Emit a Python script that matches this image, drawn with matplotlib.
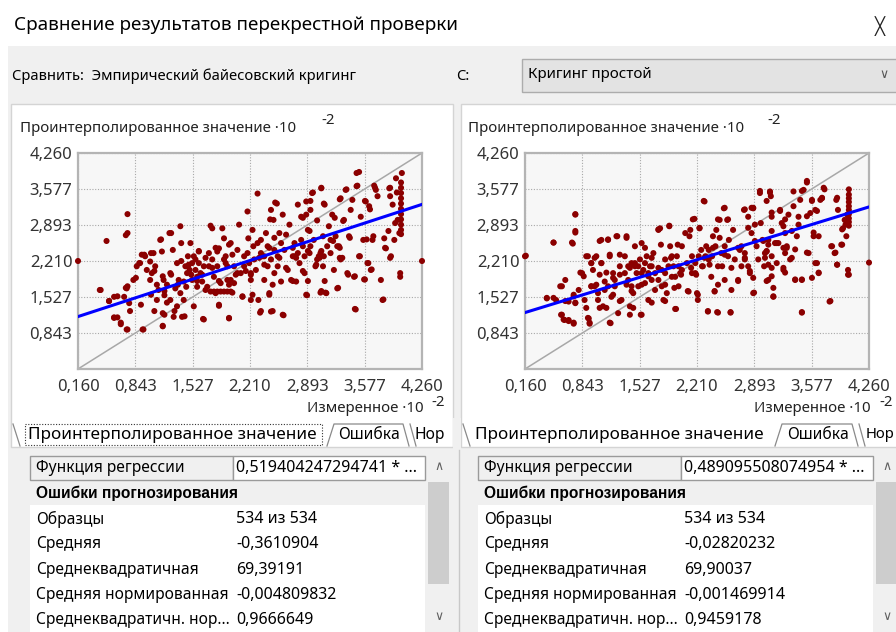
import matplotlib
matplotlib.use('Agg')
import matplotlib.pyplot as plt
from matplotlib.patches import Rectangle

plt.rcParams['font.family'] = ['Noto Sans', 'DejaVu Sans']

# ---------------- data ----------------
tick_vals = [0.160, 0.843, 1.527, 2.210, 2.893, 3.577, 4.260]
tick_labels = ['0,160', '0,843', '1,527', '2,210', '2,893', '3,577', '4,260']

left_slope, left_intercept = 0.519404247294741, 1.072
right_slope, right_intercept = 0.489095508074954, 1.153

left_points = [
    (0.16, 2.21), (4.26, 2.21), (0.50, 2.59), (0.75, 3.10), (0.73, 2.70), (0.75, 2.74), (0.42, 1.66),
    (0.53, 1.45), (0.59, 1.53), (0.59, 1.14), (0.63, 1.14), (0.67, 1.01), (0.74, 0.91), (0.94, 0.91),
    (0.74, 1.69), (0.75, 1.73), (0.71, 1.53), (0.78, 1.26), (0.82, 1.85), (0.86, 2.11), (0.90, 2.17),
    (0.92, 2.33), (0.96, 2.30), (0.98, 2.04), (1.02, 2.20), (1.04, 1.98), (1.06, 2.36), (1.10, 1.76),
    (1.10, 1.47), (1.14, 2.61), (1.16, 2.39), (1.18, 1.85), (1.19, 1.56), (1.17, 1.22), (1.17, 0.98),
    (1.22, 1.42), (1.25, 2.74), (1.26, 1.98), (1.29, 2.42), (1.30, 1.15), (1.32, 1.69), (1.34, 2.17),
    (1.36, 1.85), (1.38, 2.87), (1.39, 2.55), (1.40, 1.15), (1.42, 1.47), (1.44, 2.11), (1.45, 1.72),
    (1.47, 2.30), (1.49, 2.04), (1.50, 2.55), (1.52, 1.85), (1.54, 1.35), (1.56, 2.24), (1.58, 1.72),
    (1.60, 2.39), (1.62, 1.98), (1.65, 1.11), (1.66, 2.11), (1.68, 1.66), (1.72, 2.36), (1.74, 2.88),
    (1.76, 2.83), (1.78, 1.91), (1.80, 1.60), (1.82, 2.11), (1.84, 1.36), (1.86, 1.79), (1.88, 2.83),
    (1.90, 2.64), (1.92, 2.30), (1.94, 1.85), (1.96, 1.12), (1.98, 2.55), (2.00, 1.61), (2.02, 2.11),
    (2.06, 2.42), (2.08, 2.90), (2.10, 1.98), (2.12, 1.53), (2.14, 2.30), (2.18, 3.15), (2.19, 2.64),
    (2.20, 2.17), (2.22, 1.85), (2.22, 1.47), (2.24, 2.80), (2.25, 2.49), (2.28, 2.04), (2.30, 3.49),
    (2.31, 1.47), (2.33, 1.23), (2.34, 2.61), (2.36, 2.30), (2.38, 1.85), (2.40, 2.74), (2.42, 2.11),
    (2.44, 1.60), (2.46, 3.18), (2.46, 1.25), (2.49, 2.99), (2.50, 2.42), (2.53, 3.30), (2.54, 2.11),
    (2.56, 2.74), (2.58, 1.82), (2.60, 3.09), (2.61, 1.18), (2.62, 2.42), (2.64, 2.71), (2.66, 2.04),
    (2.68, 2.90), (2.70, 1.85), (2.72, 2.30), (2.74, 2.55), (2.76, 1.82), (2.78, 3.28), (2.80, 2.17),
    (2.82, 3.05), (2.84, 2.49), (2.86, 1.98), (2.88, 3.34), (2.89, 1.56), (2.90, 2.80), (2.92, 2.36),
    (2.93, 3.18), (2.95, 3.50), (2.97, 2.61), (2.99, 2.11), (3.01, 2.98), (3.03, 2.30), (3.05, 1.61),
    (3.06, 3.59), (3.08, 2.68), (3.08, 2.11), (3.09, 3.30), (3.11, 1.61), (3.13, 2.49), (3.15, 2.87),
    (3.17, 2.36), (3.19, 3.09), (3.21, 2.04), (3.23, 2.68), (3.25, 1.69), (3.27, 2.49), (3.29, 3.40),
    (3.31, 2.27), (3.33, 2.99), (3.35, 3.56), (3.37, 1.98), (3.39, 2.68), (3.41, 3.18), (3.43, 3.37),
    (3.45, 1.91), (3.47, 1.29), (3.48, 3.88), (3.51, 3.90), (3.49, 3.64), (3.51, 2.30), (3.53, 3.05),
    (3.56, 2.61), (3.57, 1.86), (3.59, 3.34), (3.61, 2.17), (3.63, 3.25), (3.65, 2.04), (3.67, 2.61),
    (3.69, 3.64), (3.71, 3.56), (3.73, 3.44), (3.77, 1.85), (3.79, 1.47), (3.81, 2.64), (3.83, 2.45),
    (3.87, 3.59), (3.88, 3.44), (3.89, 2.30), (3.91, 3.28), (3.93, 2.61), (3.95, 3.78), (3.97, 2.99),
    (3.99, 2.74), (4.00, 1.98), (4.00, 1.91), (4.01, 3.70), (4.01, 3.60), (4.01, 3.50), (4.01, 3.40),
    (4.01, 3.30), (4.01, 3.20), (4.01, 3.10), (4.01, 3.00), (4.01, 2.90), (4.01, 2.80), (4.01, 2.72),
    (4.02, 3.88),
    (1.02, 1.85), (1.08, 2.11), (1.12, 1.66), (1.22, 1.76), (1.26, 1.47), (1.34, 1.35), (1.38, 1.60),
    (1.42, 1.82), (1.46, 1.98), (1.48, 2.14), (1.52, 2.17), (1.54, 2.30), (1.56, 2.04), (1.58, 1.91),
    (1.60, 2.17), (1.64, 1.82), (1.70, 1.72), (1.74, 1.63), (1.78, 1.63), (1.82, 1.63), (1.86, 1.63),
    (1.90, 1.63), (1.94, 1.63), (1.98, 1.63), (1.72, 2.11), (1.76, 2.24), (1.82, 2.39), (1.84, 2.45),
    (1.90, 2.24), (1.94, 2.11), (1.98, 1.85), (2.02, 1.79), (2.06, 1.98), (2.14, 2.11), (2.18, 2.36),
    (2.22, 1.98), (2.26, 2.24), (2.30, 2.55), (2.34, 2.36), (2.38, 2.30), (2.42, 2.49), (2.46, 2.24),
    (2.50, 1.98), (2.54, 2.30), (2.58, 2.55), (2.74, 2.30), (2.78, 2.36), (2.82, 2.61), (2.86, 2.30),
    (2.93, 2.49), (3.01, 2.24), (3.05, 2.36), (3.09, 2.30), (3.17, 2.61), (3.25, 2.49), (3.29, 2.24),
    (2.51, 3.32), (2.45, 3.00), (2.84, 3.03), (2.93, 3.35), (1.60, 2.40), (1.68, 2.27), (1.80, 2.46),
    (1.96, 2.52), (2.00, 2.33), (1.92, 2.17), (1.76, 2.08), (1.64, 1.95), (1.58, 1.83), (1.84, 1.83),
    (1.96, 1.76), (2.04, 1.95), (2.16, 2.02), (2.22, 1.95), (2.32, 2.27), (2.38, 2.14), (2.44, 2.46),
    (2.50, 2.65), (2.56, 2.27), (2.64, 2.08), (2.72, 2.46), (2.76, 2.27), (2.84, 2.02), (2.90, 1.83),
    (2.72, 1.83), (2.48, 1.76), (2.44, 1.57), (2.24, 1.57), (2.12, 1.54), (1.84, 1.38), (1.96, 1.13),
    (1.66, 1.10), (2.34, 1.26), (2.48, 1.26), (2.60, 1.19),
    (3.06, 3.60), (2.96, 3.51), (2.88, 3.09), (3.10, 3.28), (3.28, 3.38), (3.36, 3.57), (3.48, 3.63),
    (3.58, 3.35), (3.64, 3.19), (3.70, 3.60), (3.88, 3.60), (3.96, 3.51), (3.94, 2.93), (3.86, 2.78),
    (3.82, 2.46), (3.88, 2.27), (3.68, 2.68), (3.60, 2.62), (3.52, 2.30), (3.62, 2.17), (3.66, 2.05),
    (3.58, 1.86), (3.46, 1.92), (3.38, 1.95), (3.26, 1.70), (3.46, 1.30), (3.80, 1.48), (3.12, 1.60),
    (3.06, 1.64), (3.10, 1.83), (3.04, 2.27), (3.00, 2.14), (3.06, 2.40), (3.20, 2.59), (3.28, 2.46),
    (3.28, 2.27), (3.40, 2.65), (3.32, 2.97), (3.22, 3.03), (2.92, 2.78), (2.90, 2.40), (2.88, 1.57),
    (1.27, 2.74), (1.15, 2.62), (0.95, 2.33), (1.03, 2.36), (0.89, 2.17), (0.85, 1.89), (1.07, 2.02),
    (1.17, 1.92), (1.27, 1.95), (1.39, 2.21), (1.47, 2.11), (1.51, 1.95), (1.35, 1.76), (1.19, 1.64),
    (1.03, 1.57), (0.91, 1.38), (1.07, 1.26), (1.19, 1.19), (1.31, 1.26), (1.43, 1.16), (1.17, 0.97),
    (0.93, 0.91), (0.75, 0.91), (0.67, 1.04), (0.59, 1.13), (0.63, 1.54), (0.53, 1.45), (0.43, 1.66),
    (0.77, 1.41), (0.73, 1.70),
]

right_points = [
    (0.17, 2.31), (4.26, 2.18), (0.50, 2.56), (0.76, 3.10), (0.76, 2.75), (0.73, 2.54), (0.42, 1.50),
    (0.53, 1.47), (0.60, 1.73), (0.59, 1.19), (0.63, 1.09), (0.68, 1.09), (0.74, 1.02), (0.64, 1.85),
    (0.68, 1.44), (0.74, 1.54), (0.76, 1.41), (0.80, 1.66), (0.84, 1.98), (0.87, 1.47), (0.89, 2.30),
    (0.92, 1.12), (0.93, 1.02), (0.95, 2.17), (0.97, 2.04), (0.99, 1.73), (1.01, 2.30), (1.03, 1.60),
    (1.07, 2.61), (1.07, 2.17), (1.09, 1.35), (1.11, 1.82), (1.15, 2.61), (1.17, 2.30), (1.18, 1.03),
    (1.19, 1.53), (1.21, 1.98), (1.23, 1.73), (1.26, 2.68), (1.27, 1.22), (1.29, 2.11), (1.31, 1.47),
    (1.35, 2.30), (1.37, 2.68), (1.39, 1.85), (1.41, 1.35), (1.43, 2.17), (1.45, 1.60), (1.47, 2.49),
    (1.49, 1.98), (1.51, 1.73), (1.53, 2.24), (1.54, 1.19), (1.55, 2.55), (1.57, 2.04), (1.59, 1.79),
    (1.61, 2.30), (1.63, 1.47), (1.65, 2.11), (1.67, 1.85), (1.69, 2.36), (1.71, 1.66), (1.75, 2.80),
    (1.77, 2.83), (1.79, 2.04), (1.81, 1.47), (1.83, 2.24), (1.85, 1.60), (1.88, 2.88), (1.89, 2.49),
    (1.91, 1.91), (1.93, 2.11), (1.95, 1.30), (1.97, 2.30), (1.99, 1.73), (2.01, 1.98), (2.03, 2.49),
    (2.07, 2.74), (2.09, 2.17), (2.11, 1.63), (2.13, 2.80), (2.15, 2.30), (2.18, 3.01), (2.19, 1.98),
    (2.21, 1.60), (2.22, 1.47), (2.24, 2.83), (2.26, 2.42), (2.28, 2.11), (2.30, 3.34), (2.32, 2.49),
    (2.34, 1.25), (2.35, 2.24), (2.38, 1.91), (2.40, 2.68), (2.42, 1.63), (2.44, 2.80), (2.45, 1.24),
    (2.46, 2.11), (2.48, 2.99), (2.50, 2.36), (2.53, 3.21), (2.54, 1.85), (2.57, 2.99), (2.59, 2.61),
    (2.61, 1.24), (2.62, 1.66), (2.64, 2.80), (2.66, 2.24), (2.70, 1.85), (2.72, 2.42), (2.74, 2.11),
    (2.77, 3.18), (2.78, 2.36), (2.82, 3.05), (2.84, 1.98), (2.86, 2.74), (2.88, 3.21), (2.89, 1.61),
    (2.92, 2.49), (2.96, 3.50), (2.97, 2.93), (2.99, 2.61), (3.01, 2.11), (3.04, 2.39), (3.06, 1.85),
    (3.08, 3.53), (3.09, 3.44), (3.10, 3.05), (3.12, 1.53), (3.14, 2.55), (3.16, 2.17), (3.20, 3.18),
    (3.22, 2.93), (3.24, 2.04), (3.26, 2.74), (3.28, 2.49), (3.30, 3.09), (3.32, 2.24), (3.36, 3.53),
    (3.38, 1.85), (3.40, 2.68), (3.42, 3.05), (3.44, 3.37), (3.46, 1.85), (3.46, 1.23), (3.48, 3.56),
    (3.52, 3.70), (3.54, 2.36), (3.56, 3.12), (3.58, 3.37), (3.60, 2.68), (3.62, 3.18), (3.64, 2.17),
    (3.66, 1.98), (3.68, 3.37), (3.70, 3.40), (3.73, 3.57), (3.79, 1.44), (3.81, 2.49), (3.85, 2.36),
    (3.87, 3.37), (3.88, 2.14), (3.89, 3.18), (3.93, 2.52), (3.95, 2.83), (3.97, 2.99), (3.99, 2.68),
    (4.01, 2.04), (4.01, 1.95), (4.02, 3.57), (4.02, 3.47), (4.02, 3.40), (4.02, 3.33), (4.02, 3.25),
    (4.02, 3.18), (4.02, 3.10), (4.02, 3.02), (4.02, 2.95), (4.02, 2.88),
    (0.95, 1.73), (1.03, 1.47), (1.15, 1.73), (1.23, 1.85), (1.35, 1.98), (1.39, 2.11), (1.43, 1.73),
    (1.47, 2.11), (1.51, 2.11), (1.55, 1.98), (1.59, 2.17), (1.63, 1.98), (1.67, 2.11), (1.71, 1.98),
    (1.75, 1.85), (1.79, 1.73), (1.83, 1.98), (1.87, 2.11), (1.91, 2.30), (1.95, 1.91), (1.99, 2.11),
    (2.03, 2.04), (2.15, 1.98), (2.19, 2.17), (2.23, 2.30), (2.27, 2.11), (2.31, 2.30), (2.35, 2.42),
    (2.39, 2.30), (2.43, 2.49), (2.51, 2.11), (2.54, 2.49), (2.58, 2.30), (2.74, 2.49), (2.78, 2.24),
    (2.82, 2.11), (2.94, 2.24), (3.02, 2.36), (3.06, 2.61), (3.10, 2.30), (3.18, 2.55), (3.26, 2.36),
    (1.59, 2.46), (1.67, 2.27), (1.78, 2.52), (1.75, 2.81), (1.88, 2.87), (1.98, 2.52), (1.90, 2.27),
    (1.75, 2.08), (1.63, 1.92), (1.55, 1.76), (1.83, 1.76), (1.94, 1.70), (2.02, 1.95), (2.14, 2.08),
    (2.20, 1.95), (2.30, 2.27), (2.36, 2.14), (2.40, 2.46), (2.48, 2.65), (2.54, 2.33), (2.62, 2.08),
    (2.70, 2.46), (2.78, 2.27), (2.84, 2.02), (2.88, 1.89), (2.70, 1.83), (2.46, 1.76), (2.42, 1.64),
    (2.22, 1.57), (2.10, 1.64), (1.83, 1.45), (1.96, 1.30), (1.67, 1.42), (1.55, 1.19), (2.34, 1.26),
    (2.46, 1.23), (2.61, 1.23), (2.29, 3.35), (2.54, 3.22), (2.46, 3.00), (2.58, 3.00), (2.16, 3.00),
    (2.24, 2.84), (2.12, 2.68), (2.78, 3.19), (2.88, 3.22), (2.82, 2.84), (2.90, 2.59),
    (3.52, 3.73), (3.46, 3.54), (2.96, 3.54), (3.08, 3.51), (3.04, 3.35), (2.86, 3.22), (2.90, 2.90),
    (3.10, 3.13), (3.20, 3.16), (3.36, 3.25), (3.58, 3.35), (3.70, 3.41), (3.72, 3.60), (3.88, 3.41),
    (3.52, 3.06), (3.64, 3.16), (3.26, 3.00), (3.24, 2.87), (3.34, 2.78), (3.42, 2.90), (3.10, 2.78),
    (3.00, 2.59), (3.06, 2.52), (3.16, 2.55), (3.24, 2.46), (3.28, 2.46), (3.38, 2.43), (3.04, 2.40),
    (3.02, 2.27), (3.06, 2.14), (3.10, 2.08), (3.24, 2.08), (3.34, 2.27), (3.52, 2.37), (3.60, 2.75),
    (3.66, 2.68), (3.82, 2.49), (3.86, 2.37), (3.94, 2.52), (3.88, 2.14), (3.62, 2.17), (3.66, 1.99),
    (3.58, 1.89), (3.38, 1.86), (3.46, 1.86), (3.26, 1.99), (3.10, 1.92), (3.04, 1.83), (3.12, 1.70),
    (3.12, 1.54), (2.88, 1.60), (3.80, 1.45), (3.46, 1.24), (4.02, 1.95), (3.98, 2.90), (3.94, 2.81),
    (4.00, 3.09),
    (0.16, 2.30), (0.50, 2.56), (0.76, 3.09), (0.76, 2.78), (0.72, 2.56), (1.05, 2.59), (1.15, 2.62),
    (1.25, 2.68), (1.37, 2.65), (1.17, 2.33), (1.29, 2.33), (0.91, 2.30), (0.99, 2.27), (0.95, 2.17),
    (1.07, 2.17), (0.82, 1.99), (0.86, 1.92), (1.05, 1.95), (1.13, 1.99), (1.21, 1.89), (1.29, 1.95),
    (1.41, 2.08), (1.47, 2.17), (1.01, 1.76), (0.95, 1.73), (1.11, 1.66), (1.21, 1.57), (1.37, 1.76),
    (1.43, 1.64), (1.29, 1.45), (1.13, 1.32), (1.05, 1.32), (0.89, 1.32), (0.76, 1.42), (0.64, 1.45),
    (0.74, 1.57), (0.58, 1.73), (0.50, 1.51), (0.42, 1.51), (0.60, 1.19), (0.62, 1.10), (0.68, 1.07),
    (0.74, 1.04), (0.93, 1.04), (0.91, 1.13), (1.17, 1.04), (1.41, 1.19), (1.45, 1.32),
]

row_names = ['Образцы', 'Средняя', 'Среднеквадратичная', 'Средняя нормированная',
             'Среднеквадратичн. нор...']
left_values = ['534 из 534', '-0,3610904', '69,39191', '-0,004809832', '0,9666649']
right_values = ['534 из 534', '-0,02820232', '69,90037', '-0,001469914', '0,9459178']
left_regression = '0,519404247294741 * ...'
right_regression = '0,489095508074954 * ...'

# ---------------- figure ----------------
W, H = 896, 632
fig = plt.figure(figsize=(W / 100, H / 100), dpi=100)
fig.patch.set_facecolor('white')
bg = fig.add_axes([0, 0, 1, 1])
bg.set_xlim(0, W)
bg.set_ylim(H, 0)
bg.axis('off')


def rect(x0, y0, x1, y1, fc, ec='none', lw=1.0, ls='-', z=1):
    bg.add_patch(Rectangle((x0, y0), x1 - x0, y1 - y0, facecolor=fc, edgecolor=ec,
                           linewidth=lw, linestyle=ls, zorder=z))


def txt(x, y, s, size=10.5, **kw):
    kw.setdefault('va', 'center')
    kw.setdefault('ha', 'left')
    kw.setdefault('color', '#000000')
    bg.text(x, y, s, fontsize=size, **kw)


# title bar
txt(14, 25, 'Сравнение результатов перекрестной проверки', size=13.6)
txt(880, 26, '╳', size=12, ha='center', color='#222222', family=['DejaVu Sans'])

# dialog body
rect(8, 46, W, H, '#f0f0f0')
txt(12, 76, 'Сравнить:  Эмпирический байесовский кригинг', size=10.6)
txt(456, 76, 'С:', size=10.6)
rect(522, 59, W + 2, 92, '#e3e3e3', ec='#acacac', lw=1)
txt(528, 74, 'Кригинг простой', size=10.9)
txt(884, 75, '∨', size=9, ha='center', color='#555555', family=['DejaVu Sans'])

# chart panels
panels = [(11, 453), (461, W + 2)]
for (x0, x1) in panels:
    rect(x0, 104, x1, 447, 'white', ec='#d4d4d4', lw=1)


def tab_outline(pts):
    xs, ys = zip(*pts)
    bg.plot(xs, ys, color='#8a8a8a', lw=0.9, zorder=3)


TAB = 12.3
TAB2 = 11.2
# tabs (left)
tab_outline([(13, 424), (20, 446)])
txt(28, 435, 'Проинтерполированное значение', size=TAB)
rect(25, 424, 322, 445, 'none', ec='#333333', lw=0.8, ls=(0, (1, 1.5)), z=3)
tab_outline([(327, 446), (334, 424), (403, 424), (409, 446)])
txt(338, 435, 'Ошибка', size=TAB2)
tab_outline([(410, 424), (416, 446)])
txt(414, 435, 'Нор', size=TAB2)
rect(453, 418, 461, 452, '#f0f0f0', z=4)
# tabs (right)
tab_outline([(463, 424), (470, 446)])
txt(475, 435, 'Проинтерполированное значение', size=TAB)
tab_outline([(775, 446), (782, 424), (852, 424), (858, 446)])
txt(787, 435, 'Ошибка', size=TAB2)
tab_outline([(859, 424), (865, 446)])
txt(866, 435, 'Нор', size=10.6)

# property grids
GS = 11.2
for off, reg, vals in [(0, left_regression, left_values), (448, right_regression, right_values)]:
    x0 = 30 + off
    rect(x0, 505, 425 + off, H, 'white')
    rect(x0, 456, 233 + off, 480, '#f0f0f0', ec='#9a9a9a', lw=1, z=2)
    rect(233 + off, 456, 425 + off, 480, 'white', ec='#9a9a9a', lw=1, z=2)
    txt(x0 + 6, 468, 'Функция регрессии', size=GS)
    txt(236 + off, 468, reg, size=GS + 0.3)
    txt(x0 + 6, 493, 'Ошибки прогнозирования', size=GS, weight='bold',
        family=['Liberation Sans', 'DejaVu Sans'])
    for i, (nm, v) in enumerate(zip(row_names, vals)):
        y = 519 + i * 25.3
        txt(x0 + 6, y, nm, size=GS)
        txt(236 + off, y, v, size=GS + 0.3)
    # scrollbar
    sx0, sx1 = 427 + off, 450 + off
    rect(sx0, 454, sx1, H, '#f0f0f0', z=2)
    rect(sx0 + 1, 482, sx1 - 1, 584, '#cdcdcd', z=3)
    txt((sx0 + sx1) / 2, 466, '∧', size=9, ha='center', color='#606060', family=['DejaVu Sans'], zorder=4)
    txt((sx0 + sx1) / 2, 616, '∨', size=9, ha='center', color='#606060', family=['DejaVu Sans'], zorder=4)
rect(453, 450, 460, H, '#f0f0f0', z=3)
bg.plot([459, 459], [450, H], color='#c8c8c8', lw=1, zorder=4)


# ---------------- scatter charts ----------------
def make_chart(x_left, pts, slope, intercept, ylab_x, sup_x, xlab_right, xsup_x):
    ax = fig.add_axes([x_left / W, 1 - 369 / H, 344 / W, 216 / H])
    ax.set_facecolor('#f7f7f7')
    lo, hi = tick_vals[0], tick_vals[-1]
    ax.set_xlim(lo, hi)
    ax.set_ylim(lo, hi)
    ax.set_xticks(tick_vals)
    ax.set_xticklabels(tick_labels)
    ax.set_yticks(tick_vals[1:])
    ax.set_yticklabels(tick_labels[1:])
    ax.tick_params(length=0, labelsize=12, labelcolor='#333333')
    ax.tick_params(axis='x', pad=7)
    ax.tick_params(axis='y', pad=4)
    ax.grid(True, color='#a8a8a8', linestyle=(0, (1, 1.5)), linewidth=0.8)
    ax.set_axisbelow(True)
    for sp in ax.spines.values():
        sp.set_color('#b4b4b4')
        sp.set_linewidth(1.6)
    ax.plot([lo, hi], [lo, hi], color='#a8a8a8', lw=1.1, zorder=2)
    xs = [p[0] for p in pts]
    ys = [p[1] for p in pts]
    ax.scatter(xs, ys, s=19, color='#8b0000', edgecolors='none', zorder=3, clip_on=False)
    ax.plot([lo, hi], [slope * lo + intercept, slope * hi + intercept], color='#0000ff', lw=2.2,
            zorder=4)
    txt(ylab_x, 128, 'Проинтерполированное значение ·10', size=10.8, color='#222222')
    txt(sup_x, 121, '-2', size=10.8, color='#222222')
    txt(xlab_right, 409, 'Измеренное ·10', size=10.8, ha='right', color='#222222')
    txt(xsup_x, 403, '-2', size=10.8, color='#222222')
    return ax


make_chart(78, left_points, left_slope, left_intercept, 20, 321, 424, 431)
make_chart(525, right_points, right_slope, right_intercept, 468, 767, 871, 879)

fig.savefig('out.png', dpi=100, facecolor='white')
